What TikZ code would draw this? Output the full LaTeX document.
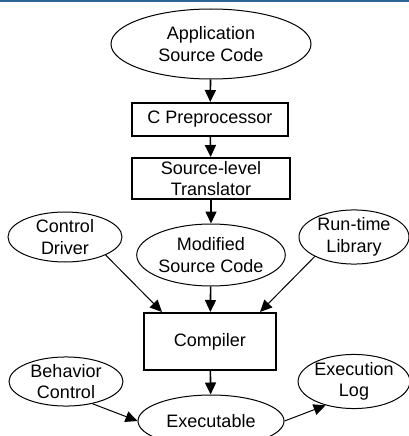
\documentclass[tikz,border=0pt]{standalone}
\usepackage{fontspec}
\setmainfont{Liberation Sans}
\usetikzlibrary{shapes.geometric, arrows.meta}
\definecolor{topbar}{HTML}{2B6497}

\begin{document}
\begin{tikzpicture}[x=1pt, y=-1pt, font=\fontsize{18}{21.5}\selectfont,
		oval/.style={ellipse, draw, line width=1pt, inner sep=0pt, align=center},
		stage/.style={rectangle, draw, line width=2pt, inner sep=0pt, align=center},
		flow/.style={-{Triangle[length=12pt, width=11pt]}, line width=1.6pt},
		feed/.style={-{Triangle[length=12pt, width=11pt]}, line width=1pt}]
		\useasboundingbox (0, 0) rectangle (409, 436);
		\clip (0, 0) rectangle (409, 436);
		\fill[topbar] (0, 0) rectangle (409, 1.6);
		
		\node[oval, minimum width=200pt, minimum height=70pt] (app) at (211, 44) {Application\\Source Code};
		\node[stage, minimum width=156pt, minimum height=33pt] (cpp) at (210, 119.5) {C Preprocessor};
		\node[stage, minimum width=158pt, minimum height=41pt] (slt) at (211, 178.5) {Source-level\\Translator};
		\node[oval, minimum width=146pt, minimum height=62pt] (mod) at (211, 255) {Modified\\Source Code};
		\node[oval, minimum width=114pt, minimum height=50pt] (drv) at (65, 237) {Control\\Driver};
		\node[oval, minimum width=110pt, minimum height=50pt] (lib) at (354, 237) {Run-time\\Library};
		\node[stage, minimum width=132pt, minimum height=57pt] (cc) at (210, 341.5) {Compiler};
		\node[oval, minimum width=114pt, minimum height=49pt] (beh) at (66, 381.5) {Behavior\\Control};
		\node[oval, minimum width=110pt, minimum height=49pt] (log) at (354, 381.5) {Execution\\Log};
		\node[oval, minimum width=146pt, minimum height=52pt] (exe) at (211, 421) {Executable};
		
		\draw[flow] (app) -- (cpp);
		\draw[flow] (cpp) -- (slt);
		\draw[flow] (slt) -- (mod);
		\draw[flow] (mod) -- (cc);
		\draw[feed] (drv.south east) -- ([xshift=19pt]cc.north west);
		\draw[feed] (lib.south west) -- ([xshift=-17pt]cc.north east);
		\draw[flow] (cc) -- (exe);
		\draw[feed] (beh.-40) -- (exe.west);
		\draw[feed] (exe.east) -- (log.220);
\end{tikzpicture}
\end{document}
